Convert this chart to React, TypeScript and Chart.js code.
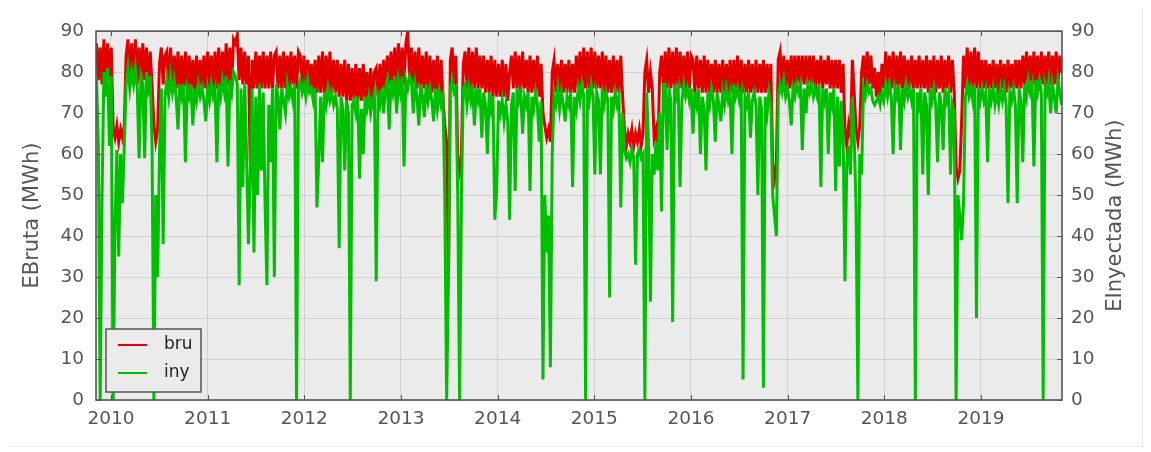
import React, { useEffect, useRef } from "react";
import { Chart, registerables } from "chart.js";

Chart.register(...registerables);

// Weekly samples, first one at decimal year START_YEAR
const START_YEAR = 2009.85;
const STEP_YEARS = 7 / 365.25;
const X_MIN = 2009.845;
const X_MAX = 2019.838;

const YEAR_TICKS = [2010, 2011, 2012, 2013, 2014, 2015, 2016, 2017, 2018, 2019];
const Y_TICKS = [0, 10, 20, 30, 40, 50, 60, 70, 80, 90];

const LEFT_TITLE = "EBruta (MWh)";
const RIGHT_TITLE = "EInyectada (MWh)";
const SERIES_NAMES = ["bru", "iny"];

// EBruta (MWh)
const bru = [
  87,78,86,77,88,78,87,78,86,66,
  64,67,63,66,64,67,84,88,78,87,
  78,88,77,86,78,87,78,86,77,85,
  77,67,63,66,82,86,77,84,85,76,
  86,76,84,76,85,76,84,75,85,76,
  84,76,83,75,84,76,83,76,84,76,
  85,76,84,75,85,76,86,76,85,77,
  87,77,86,77,88,87,89,78,86,77,
  85,77,84,58,83,76,85,76,84,76,
  85,76,84,76,85,76,84,85,76,84,
  76,85,76,84,76,85,77,84,76,85,
  84,76,84,76,83,76,82,75,83,75,
  84,75,85,75,84,75,85,75,83,75,
  83,74,82,74,83,73,82,73,81,73,
  82,73,81,73,82,73,80,73,81,73,
  80,81,74,82,75,83,76,84,77,85,
  77,86,77,87,77,86,77,87,90,78,
  86,77,85,76,86,76,84,76,85,75,
  84,75,83,75,84,74,83,74,67,63,
  30,83,86,77,84,59,56,60,82,85,
  76,86,76,85,76,86,76,84,76,84,
  75,83,75,84,74,83,74,82,74,83,
  74,82,73,80,84,76,85,76,84,75,
  85,76,83,75,84,75,83,75,84,74,
  82,70,67,64,66,63,80,83,75,82,
  75,83,75,82,75,83,75,82,75,84,
  76,85,76,86,76,85,76,86,76,85,
  76,84,76,85,75,84,75,83,75,84,
  75,83,75,84,74,66,62,65,63,66,
  62,65,63,66,62,65,80,83,75,80,
  76,64,66,60,80,84,76,85,76,86,
  76,85,76,86,76,85,76,84,76,85,
  76,84,83,75,84,76,83,75,84,75,
  83,75,82,75,83,75,82,75,83,75,
  82,75,83,75,83,75,84,75,83,75,
  82,75,83,75,82,75,83,75,82,75,
  83,75,82,75,82,57,54,58,83,85,
  76,84,76,83,76,84,76,84,77,84,
  77,84,77,84,77,84,77,84,76,83,
  77,84,76,83,77,84,76,83,76,83,
  76,83,75,82,66,62,67,64,83,75,
  66,63,67,80,84,76,85,77,84,76,
  81,74,80,74,82,76,85,76,84,76,
  85,76,84,76,85,76,84,76,83,76,
  84,76,83,76,84,76,83,76,84,75,
  83,76,84,75,83,76,84,75,83,76,
  84,75,83,75,57,54,56,68,84,76,
  86,76,85,76,86,76,85,76,83,76,
  83,76,82,76,83,76,82,75,83,76,
  82,75,83,76,82,75,83,76,83,76,
  84,77,85,77,84,77,85,77,84,77,
  85,77,84,77,85,77,84,77,85,77,
  84,80,
];

// EInyectada (MWh)
const iny = [
  79,62,0,50,80,74,81,62,79,0,
  42,61,35,60,48,62,77,81,76,80,
  77,81,76,59,79,77,59,80,76,79,
  62,0,50,30,60,76,38,74,78,74,
  79,75,78,74,66,77,74,77,58,76,
  74,77,67,76,73,77,74,76,73,68,
  76,73,77,74,76,58,77,74,78,75,
  79,57,78,75,80,79,77,28,76,52,
  77,60,38,55,76,36,74,50,77,56,
  75,48,28,72,58,76,30,77,74,66,
  76,73,70,77,74,76,73,77,0,76,
  78,75,77,74,78,75,76,73,76,47,
  59,74,58,75,72,76,73,75,72,74,
  71,37,74,71,56,73,70,0,72,73,
  70,74,54,71,60,74,71,74,70,73,
  75,29,74,72,76,70,76,78,66,78,
  75,79,70,78,75,79,57,78,76,79,
  78,70,77,74,67,77,74,69,77,73,
  76,73,68,76,71,75,72,74,50,0,
  30,76,78,75,76,50,0,50,76,77,
  72,76,73,77,67,76,73,76,64,75,
  72,60,75,71,74,44,51,73,70,73,
  68,72,68,44,72,75,51,76,73,75,
  65,74,72,75,51,74,71,75,72,63,
  73,5,50,36,45,8,60,74,72,76,
  71,75,72,68,74,72,75,52,74,71,
  76,73,77,74,0,76,73,77,74,55,
  75,73,55,76,72,75,73,25,74,71,
  75,72,74,47,70,61,59,60,58,61,
  59,33,60,61,59,60,0,75,62,24,
  60,55,63,56,70,46,77,77,61,76,
  73,19,77,74,76,52,73,77,74,76,
  73,76,65,75,72,76,60,74,71,56,
  75,72,76,73,63,75,72,68,75,72,
  76,73,75,60,77,74,76,73,75,5,
  74,72,75,64,73,75,72,50,74,71,
  3,74,70,75,72,50,45,40,74,77,
  75,78,74,76,73,67,76,74,77,75,
  77,61,76,70,77,75,77,74,76,74,
  77,52,76,73,76,60,75,72,76,51,
  74,57,73,65,29,58,62,55,74,64,
  47,0,60,55,76,74,77,75,76,73,
  72,73,74,72,75,73,77,74,77,74,
  60,76,74,77,61,76,73,77,74,76,
  73,76,0,75,72,76,55,75,72,50,
  76,73,76,72,58,75,72,61,76,73,
  75,55,72,70,0,50,45,39,48,74,
  77,74,76,73,77,20,76,73,76,73,
  75,58,76,73,76,72,75,72,76,73,
  76,72,48,75,73,76,72,48,76,73,
  58,77,74,78,75,77,57,78,75,78,
  75,0,77,75,78,70,77,74,70,78,
  75,72,
];

const RED = "#e00000";
const GREEN = "#00be00";
const PLOT_BG = "#ebebeb";
const GRID = "#d0d0d0";
const FRAME = "#555555";
const TEXT = "#555555";
const FONT = "'DejaVu Sans', sans-serif";

const CANVAS_W = 1134;
const CANVAS_H = 438;

const toPoints = (arr: number[]) =>
  arr.map((v, i) => ({ x: START_YEAR + i * STEP_YEARS, y: v }));

const decorPlugin = {
  id: "decor",
  beforeDraw(chart: any) {
    const { ctx, chartArea: a } = chart;
    ctx.save();
    ctx.fillStyle = PLOT_BG;
    ctx.fillRect(a.left, a.top, a.right - a.left, a.bottom - a.top);
    ctx.restore();
  },
  afterDraw(chart: any) {
    const { ctx, chartArea: a, scales } = chart;
    ctx.save();
    // inward tick marks
    ctx.strokeStyle = FRAME;
    ctx.lineWidth = 1;
    ctx.beginPath();
    for (const v of Y_TICKS) {
      const py = Math.round(scales.y.getPixelForValue(v)) + 0.5;
      ctx.moveTo(a.left, py);
      ctx.lineTo(a.left + 5, py);
      ctx.moveTo(a.right, py);
      ctx.lineTo(a.right - 5, py);
    }
    for (const v of YEAR_TICKS) {
      const px = Math.round(scales.x.getPixelForValue(v)) + 0.5;
      ctx.moveTo(px, a.bottom);
      ctx.lineTo(px, a.bottom - 5);
      ctx.moveTo(px, a.top);
      ctx.lineTo(px, a.top + 5);
    }
    ctx.stroke();
    // frame
    ctx.lineWidth = 1.6;
    ctx.strokeRect(a.left, a.top, a.right - a.left, a.bottom - a.top);

    // legend box
    const lx = a.left + 10;
    const ly = a.bottom - 71;
    const lw = 95;
    const lh = 63;
    ctx.fillStyle = PLOT_BG;
    ctx.fillRect(lx, ly, lw, lh);
    ctx.lineWidth = 1.5;
    ctx.strokeStyle = FRAME;
    ctx.strokeRect(lx, ly, lw, lh);
    const entries = [
      { name: SERIES_NAMES[0], color: RED, dy: 16 },
      { name: SERIES_NAMES[1], color: GREEN, dy: 44 },
    ];
    ctx.font = `17px ${FONT}`;
    ctx.textAlign = "left";
    ctx.textBaseline = "middle";
    for (const e of entries) {
      ctx.strokeStyle = e.color;
      ctx.lineWidth = 2;
      ctx.beginPath();
      ctx.moveTo(lx + 12, ly + e.dy);
      ctx.lineTo(lx + 41, ly + e.dy);
      ctx.stroke();
      ctx.fillStyle = "#222222";
      ctx.fillText(e.name, lx + 58, ly + e.dy);
    }

    // right axis title (reads bottom to top)
    ctx.translate(a.right + 54, (a.top + a.bottom) / 2);
    ctx.rotate(-Math.PI / 2);
    ctx.font = `21px ${FONT}`;
    ctx.fillStyle = TEXT;
    ctx.textAlign = "center";
    ctx.textBaseline = "middle";
    ctx.fillText(RIGHT_TITLE, 0, 0);
    ctx.restore();
  },
};

export default function App() {
  const ref = useRef<HTMLCanvasElement | null>(null);

  useEffect(() => {
    if (!ref.current) return;
    const tickFont = { family: FONT, size: 18.5 };
    const chart = new Chart(ref.current, {
      type: "line",
      data: {
        datasets: [
          {
            label: SERIES_NAMES[0],
            data: toPoints(bru),
            borderColor: RED,
            backgroundColor: RED,
            borderWidth: 3,
            borderJoinStyle: "miter",
            pointRadius: 0,
            tension: 0,
            order: 2,
            yAxisID: "y",
          },
          {
            label: SERIES_NAMES[1],
            data: toPoints(iny),
            borderColor: GREEN,
            backgroundColor: GREEN,
            borderWidth: 3,
            borderJoinStyle: "miter",
            pointRadius: 0,
            tension: 0,
            order: 1,
            yAxisID: "y",
          },
        ],
      },
      options: {
        responsive: false,
        animation: false,
        devicePixelRatio: 1,
        layout: { padding: { top: 22, left: 0, right: 0, bottom: 0 } },
        plugins: { legend: { display: false }, tooltip: { enabled: false } },
        scales: {
          x: {
            type: "linear",
            min: X_MIN,
            max: X_MAX,
            border: { display: false },
            grid: { color: GRID, lineWidth: 1, drawTicks: false },
            ticks: {
              color: TEXT,
              font: tickFont,
              padding: 8,
              maxRotation: 0,
              includeBounds: false,
              callback: (v: any) => String(v),
            },
            afterBuildTicks: (scale: any) => {
              scale.ticks = YEAR_TICKS.map((v) => ({ value: v }));
            },
            afterFit: (scale: any) => {
              scale.height = 46;
            },
          },
          y: {
            position: "left",
            min: 0,
            max: 90,
            border: { display: false },
            grid: { color: GRID, lineWidth: 1, drawTicks: false },
            ticks: { color: TEXT, font: tickFont, padding: 12, stepSize: 10 },
            title: {
              display: true,
              text: LEFT_TITLE,
              color: TEXT,
              font: { family: FONT, size: 21 },
              padding: { top: 12, bottom: 0 },
            },
            afterBuildTicks: (scale: any) => {
              scale.ticks = Y_TICKS.map((v) => ({ value: v }));
            },
            afterFit: (scale: any) => {
              scale.width = 88;
            },
          },
          y2: {
            position: "right",
            min: 0,
            max: 90,
            border: { display: false },
            grid: { display: false, drawTicks: false },
            ticks: { color: TEXT, font: tickFont, padding: 9, stepSize: 10 },
            afterBuildTicks: (scale: any) => {
              scale.ticks = Y_TICKS.map((v) => ({ value: v }));
            },
            afterFit: (scale: any) => {
              scale.width = 80;
            },
          },
        },
      } as any,
      plugins: [decorPlugin],
    });
    return () => chart.destroy();
  }, []);

  return (
    <div
      style={{
        position: "relative",
        width: CANVAS_W,
        height: CANVAS_H,
        border: "1px solid #e8e8e8",
        margin: "-1px 0 0 -1px",
        background: "#ffffff",
      }}
    >
      <canvas
        ref={ref}
        width={CANVAS_W}
        height={CANVAS_H}
        style={{ display: "block", width: CANVAS_W, height: CANVAS_H }}
      />
    </div>
  );
}
